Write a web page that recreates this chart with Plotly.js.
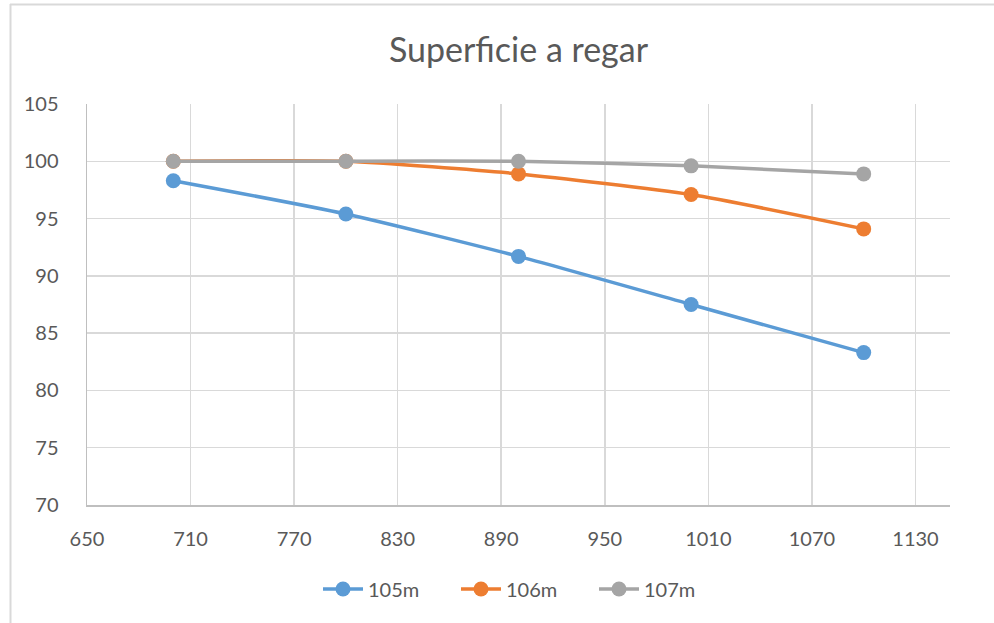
<!DOCTYPE html>
<html>
<head>
<meta charset="utf-8">
<script src="https://cdn.plot.ly/plotly-3.0.1.min.js"></script>
<style>html,body{margin:0;padding:0;background:#fff;}#chart{width:994px;height:623px;}</style>
</head>
<body>
<div id="chart"></div>
<script>
const xValues = [700, 800, 900, 1000, 1100];
const series105 = [98.3, 95.4, 91.7, 87.5, 83.3];
const series106 = [100, 100, 98.9, 97.1, 94.1];
const series107 = [100, 100, 100, 99.6, 98.9];
const seriesNames = ["105m", "106m", "107m"];
const seriesColors = ["#5B9BD5", "#ED7D31", "#A5A5A5"];
const chartTitle = "Superficie a regar";

const allSeries = [series105, series106, series107];
const traces = allSeries.map((ys, i) => ({
  x: xValues, y: ys, name: seriesNames[i], type: "scatter", mode: "lines+markers",
  line: {color: seriesColors[i], width: 3.5, shape: "spline", smoothing: 0.6},
  marker: {color: seriesColors[i], size: 15, line: {width: 0}}
}));

const W = 994, H = 623, L = 87, R = 44, T = 104, B = 118;
const pw = W - L - R, ph = H - T - B;
const px = v => (v - L) / pw;
const py = v => (H - B - v) / ph;
const FONT = "Lato, 'Open Sans', sans-serif";

const layout = {
  width: W, height: H,
  margin: {l: L, r: R, t: T, b: B, pad: 0},
  paper_bgcolor: "#fff", plot_bgcolor: "#fff",
  font: {family: FONT, color: "#595959", size: 20},
  title: {text: chartTitle, font: {size: 34, color: "#595959", family: FONT}, x: 0.5, xanchor: "center", y: 1 - 50 / H, yanchor: "middle", xref: "paper"},
  xaxis: {range: [650, 1150], tick0: 650, dtick: 60, showgrid: true, gridcolor: "#D9D9D9", gridwidth: 1.5,
          showline: true, linecolor: "#BFBFBF", linewidth: 1.5, zeroline: false, ticks: "", ticklabelstandoff: 15,
          tickfont: {size: 20, color: "#595959", family: FONT}},
  yaxis: {range: [70, 105], tick0: 70, dtick: 5, showgrid: true, gridcolor: "#D9D9D9", gridwidth: 1.5,
          showline: true, linecolor: "#BFBFBF", linewidth: 1.5, zeroline: false, ticks: "", ticklabelstandoff: 23,
          tickfont: {size: 20, color: "#595959", family: FONT}},
  showlegend: true,
  legend: {orientation: "h", x: px(525), xanchor: "center", y: py(589), yanchor: "middle", font: {size: 20, color: "#595959", family: FONT},
           itemwidth: 40, entrywidth: 83, entrywidthmode: "pixels", traceorder: "normal"},
  shapes: [
    {type: "line", xref: "paper", yref: "paper", x0: px(10.5), x1: px(10.5), y0: py(4), y1: py(640), line: {color: "#D9D9D9", width: 2}},
    {type: "line", xref: "paper", yref: "paper", x0: px(10), x1: px(1000), y0: py(4.5), y1: py(4.5), line: {color: "#D9D9D9", width: 2}}
  ]
};
Plotly.newPlot("chart", traces, layout, {displayModeBar: false, staticPlot: true});
</script>
</body>
</html>
